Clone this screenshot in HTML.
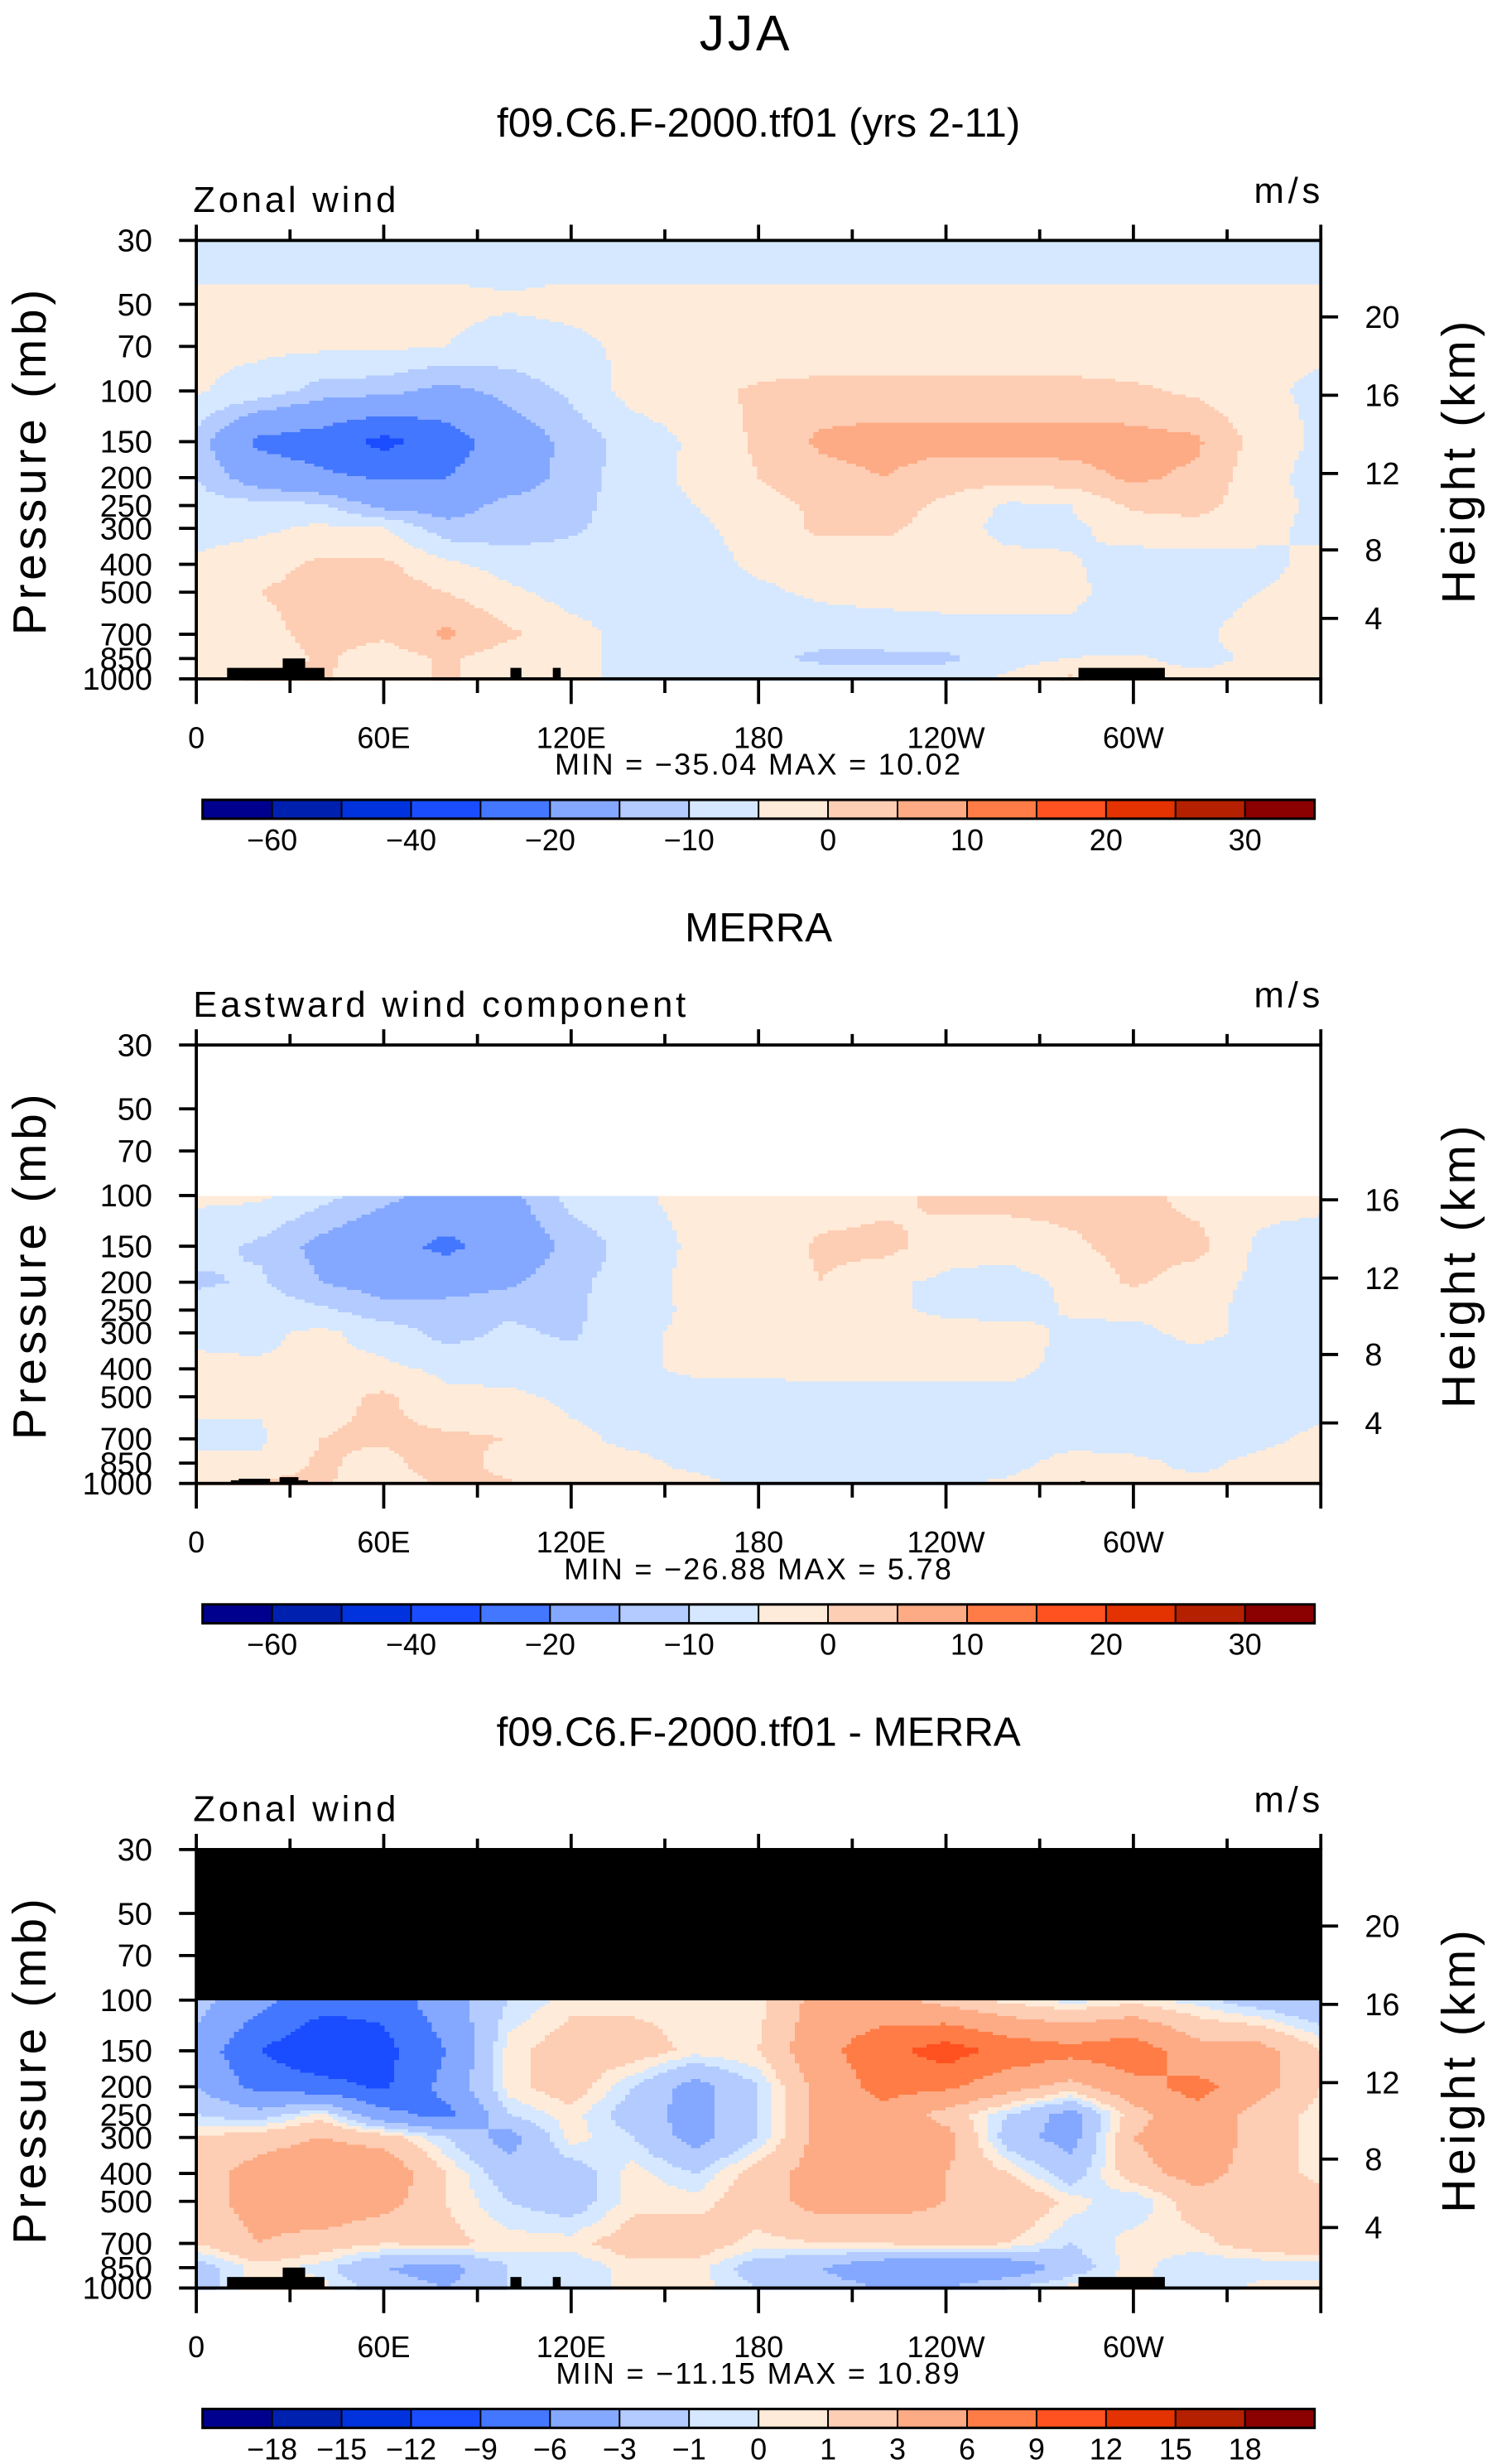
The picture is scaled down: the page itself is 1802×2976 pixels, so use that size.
<!DOCTYPE html>
<html><head><meta charset="utf-8"><style>
html,body{margin:0;padding:0;background:#fff}
svg{display:block}
text{font-family:"Liberation Sans",sans-serif;fill:#000}
</style></head><body>
<svg id="chart" width="1802" height="2976" viewBox="0 0 950 1568" preserveAspectRatio="none" xmlns="http://www.w3.org/2000/svg">
<text x="475" y="32" text-anchor="middle" font-size="32" font-weight="300" letter-spacing="2">JJA</text>
</svg>
<script>
// ---- data ----
const lons = [0,20,40,60,80,100,120,140,160,180,200,220,240,260,280,300,320,340,360];
const levels = [30,50,70,100,150,200,250,300,400,500,700,850,1000];
const fullLevelBounds = [-60,-50,-40,-30,-20,-10,-5,0,5,10,15,20,25,30,35];
const diffLevelBounds = [-18,-15,-12,-9,-6,-3,-1,0,1,3,6,9,12,15,18];
const fullTickLabels = ["-60","","-40","","-20","","-10","","0","","10","","20","","30"];
const diffTickLabels = ["-18","-15","-12","-9","-6","-3","-1","0","1","3","6","9","12","15","18"];
const palette = ["#00008f","#0020b0","#0033dd","#1a4dff","#4477ff","#84a8ff","#b3cbff","#d5e8ff","#ffebd9","#fdcdb4","#fdab85","#ff7c46","#ff5220","#e43200","#b52000","#8b0000"];
const pressureTicks = [30,50,70,100,150,200,250,300,400,500,700,850,1000];
const heightTicks = [20,16,12,8,4];
const heightTickPress = [55.3,103.5,193.5,356.6,616.6];
const lonTicks = [0,60,120,180,240,300];
const lonTickLabels = ["0","60E","120E","180","120W","60W"];

const modelU = [
[-2,-2,-2,-2,-2,-2,-2,-2,-2,-2,-2,-2,-2,-2,-2,-2,-2,-2,-2],
[1,1,1,1,1,0.5,1,1,1,1,1,1,1,1,1,1,1,1,1],
[1,1,1,1,0,-2,-1,1,1,1,1,1,1,1,1,1,1,1,1],
[0.5,-2,-7,-8,-12,-8,-4,2,3,6,7,7,7,7,7,6,4,1,-1],
[-7,-22,-25,-33,-25,-15,-8,-3,1,6,11,12,12,12,12,12,11,3,-1],
[-5,-14,-18,-21,-20,-14,-8,-2,1,5,8,10,7,7,8,11,9,2,-2],
[-3,-3,-4,-12,-13,-8,-7,-2,0,3,6,7,4,-1,0,6,7,2,-1],
[-2,-1,1,0.5,-8,-8,-6,-2,-1,2,6,6,3,-2,-1,2,3,1,-1],
[1,3,6,6,1,-2,-2,-2,-2,1,2,2,2,2,0.5,-2,-2,-1,1],
[1,5,7,8,5,1,-2,-2,-2,-1,1,2,2,2,1,-2,-2,0,1],
[1,3,7,6,11,6,2,-2,-3,-4,-3,-3,-2,-2,-1,-2,-1,2,1],
[1,1,6,2,6,2,1,-1,-3,-4,-6,-6,-6,-2,0,0.5,-1,0.5,2],
[2,6,6,1,6,1,1,-1,-2,-1,-2,-3,-2,1,6,1,1,1,1]
];
const merraU = [
null,null,null,
[1,1,-3,-8,-13,-12,-3,-1,2,2,2,3,7,7,7,7,3,2,2],
[-3,-6,-12,-17,-22,-16,-8,-3,1,1,6,7,2,2,4,7,7,-1,-3],
[-6,-4,-10,-13,-14,-11,-6,-3,2,2,5,1,-1,-2,1,6,2,-1,-5],
[-2,-2,-4,-8,-7,-6,-6,-2,1,2,1,1,-1,-2,0.5,1,1,-1,-2],
[-1,-1,1,-2,-7,-4,-6,-1,1,2,2,2,2,2,-1,-1,1,-1,-2],
[1,0.5,1,1,-1,-2,-2,-1,1,1,1,1,1,1,-1,-2,-2,-2,-2],
[1,1,3,6,1,1,-1,-2,-2,-2,-1,-1,-1,-1,-2,-2,-2,-2,-2],
[-1,-1,5,6,6,5,1,-1,-2,-3,-2,-2,-2,-2,-2,-2,-2,-1,1],
[1,1,6,3,9,2,1,1,-1,-2,-2,-2,-2,-2,2,1,-1,1,1],
[5,6,6,1,6,6,1,1,1,-1,-1,-1,-1,1,5,1,1,1,1]
];
const diffU = [
null,null,null,
[-2,-5,-8,-8,-4,-1,0.5,0.5,0.5,0.5,4,4,2,0.5,-0.5,0.5,-0.5,-2,-3],
[-4,-9,-11.5,-10,-6,0.5,2,2,0.5,1,5,8,10.5,8,7,8,4,4,1],
[-3,-7,-8,-9.5,-5,0.5,2,-1,-4,-1,4,7,6.5,4,2,5,7,4,1],
[-1,-2,0.5,-5,-7,-1,0.5,-2,-4,-1,4,5,2,-1,-4,2,5,2,0.5],
[1,2,3,2,-1,-4,0.5,-1,-4,-1,4,5,4,-2,-4,3,5,2,0.5],
[2,4,5,5,1,-2,-2,0.5,-1,2,4,5,3,1,-2,2,4,2,0.5],
[2,4,5,4,1,-1,-2,0.5,0.5,2,4,4,3,3,0.5,-1,2,1,2],
[1,3,2,1,1.5,0.5,0.5,2,2,0.5,1,1,2,1,-1,0.5,0.5,2,3],
[-2,0.5,-0.5,-3,-4,-1,-1,0.5,0.5,-2,-3,-5,-6,-5,-2,0.5,-1,-1,-1],
[-2,1,0.5,-2,-3,-1,-1,0.5,0.5,-1,-2,-3,-3,-1,0.5,0.5,-1,0.5,0.5]
];

// ---- drawing ----
const NS = "http://www.w3.org/2000/svg";
const svg = document.getElementById('chart');
const X0 = 125, X1 = 841, PH = 279;
function xScale(lon){ return X0 + lon/360*(X1-X0); }
function yScale(p, top){ return top + Math.log(p/30)/Math.log(1000/30)*PH; }
function mk(tag, attrs, parent){ const e=document.createElementNS(NS,tag); for(const k in attrs) e.setAttribute(k,attrs[k]); (parent||svg).appendChild(e); return e; }
function txt(s,x,y,size,anchor,parent,extra){ const t=mk('text',Object.assign({x:x,y:y,'font-size':size,'text-anchor':anchor||'middle'},extra||{}),parent); t.textContent=s; return t; }
function colorFor(v,bounds){ let i=0; while(i<bounds.length && v>=bounds[i]) i++; return palette[i]; }

function valueAt(data, lon, p){
  let j=0; while(j<levels.length-2 && p>levels[j+1]) j++;
  const a=data[j], b=data[j+1];
  if(!a || !b) return null;
  const fy = Math.log(p/levels[j])/Math.log(levels[j+1]/levels[j]);
  let i=Math.min(Math.floor(lon/20),17); const fx=(lon-lons[i])/20;
  const va=a[i]*(1-fx)+a[i+1]*fx, vb=b[i]*(1-fx)+b[i+1]*fx;
  return va*(1-fy)+vb*fy;
}

function drawPanel(opt){
  const top=opt.top;
  const g=mk('g',{});
  
  
  txt(opt.title,483,top-66,26,'middle',g);
  txt(opt.left,123,top-18,23,'start',g,{'letter-spacing':'2'});
  txt('m/s',843,top-24,23,'end',g,{'letter-spacing':'2.5'});
  const fill=mk('g',{'shape-rendering':'crispEdges'},g);
  
  
  const dx=3, dy=2;
  for(let y=top; y<top+PH; y+=dy){
    const p=30*Math.exp((y+dy/2-top)/PH*Math.log(1000/30));
    let runStart=X0, runCol=null;
    for(let x=X0; x<=X1+dx; x+=dx){
      let col;
      if(x>=X1) col='__end';
      else {
        const lon=(x+dx/2-X0)/(X1-X0)*360;
        const v=valueAt(opt.data,lon,p);
        col = v===null ? opt.maskColor : colorFor(v,opt.bounds);
      }
      if(col!==runCol){
        if(runCol && runCol!=='none'){
          const r=mk('rect',{x:runStart,y:y,width:Math.min(x,X1)-runStart,height:dy+0.3,fill:runCol},fill);
          
        }
        runStart=x; runCol=col;
      }
      if(col==='__end') break;
    }
  }
  (opt.topo||[]).forEach(t=>{ const r=mk('rect',{x:t[0],y:top+PH-t[1],width:t[2],height:t[1],fill:'#000'},g);  });
  const fr=mk('rect',{x:X0,y:top,width:X1-X0,height:PH,fill:'none',stroke:'#000','stroke-width':2},g);
  
  for(let lon=0; lon<=360; lon+=30){
    const x=xScale(lon); const major=lon%60===0;
    mk('line',{x1:x,y1:top,x2:x,y2:top-(major?10:7),stroke:'#000','stroke-width':2},g);
    mk('line',{x1:x,y1:top+PH,x2:x,y2:top+PH+(major?16:9),stroke:'#000','stroke-width':2},g);
  }
  lonTicks.forEach((lon,i)=>{ const t=txt(lonTickLabels[i],xScale(lon),top+PH+44,19,'middle',g);  });
  pressureTicks.forEach(p=>{ const y=yScale(p,top);
    mk('line',{x1:X0-11,y1:y,x2:X0,y2:y,stroke:'#000','stroke-width':2},g);
    const t=txt(String(p),X0-28,y+7,20,'end',g);  });
  heightTicks.forEach((h,i)=>{ if(opt.noH20 && h===20) return; const y=yScale(heightTickPress[i],top);
    mk('line',{x1:X1,y1:y,x2:X1+11,y2:y,stroke:'#000','stroke-width':2},g);
    const t=txt(String(h),X1+28,y+7,20,'start',g);  });
  const py=txt('Pressure (mb)',0,0,30,'middle',g,{transform:`translate(29,${top+140}) rotate(-90)`,'letter-spacing':'2.5'});
  
  const hy=txt('Height (km)',0,0,30,'middle',g,{transform:`translate(939,${top+140}) rotate(-90)`,'letter-spacing':'2.5'});
  
  const mm=txt(opt.minmax,483,top+340,19,'middle',g,{'xml:space':'preserve','letter-spacing':'1.2'}); 
  const cb=mk('g',{},g);  
  const cx0=129, cw=(837-129)/16, cy=top+356;
  palette.forEach((c,i)=>{ const r=mk('rect',{x:cx0+i*cw,y:cy,width:cw,height:12,fill:c,stroke:'#000','stroke-width':1},cb);  });
  mk('rect',{x:cx0,y:cy,width:837-129,height:12,fill:'none',stroke:'#000','stroke-width':1.6},cb);
  opt.tickLabels.forEach((s,i)=>{ if(!s) return; const t=txt(s.replace('-','\u2212'),cx0+(i+1)*cw,cy+32,19,'middle',cb);  });
}

const topoMain=[[144.6,7,62],[180,13,14.3],[325,7,7],[352,7,5],[686.7,7,55]];
drawPanel({top:153,name:'panel-model',title:'f09.C6.F-2000.tf01 (yrs 2-11)',left:'Zonal wind',data:modelU,bounds:fullLevelBounds,tickLabels:fullTickLabels,maskColor:'none',minmax:'MIN =  \u221235.04   MAX =   10.02',topo:topoMain});
drawPanel({top:665,name:'panel-merra',title:'MERRA',left:'Eastward wind component',data:merraU,bounds:fullLevelBounds,tickLabels:fullTickLabels,maskColor:'none',noH20:true,minmax:'MIN =  \u221226.88   MAX =    5.78',topo:[[147,2,5],[152,3,20],[178,4,12],[190,2,6],[688,1.5,3]]});
drawPanel({top:1177,name:'panel-difference',title:'f09.C6.F-2000.tf01 - MERRA',left:'Zonal wind',data:diffU,bounds:diffLevelBounds,tickLabels:diffTickLabels,maskColor:'#000',minmax:'MIN =  \u221211.15   MAX =   10.89',topo:topoMain});
</script>
</body></html>
